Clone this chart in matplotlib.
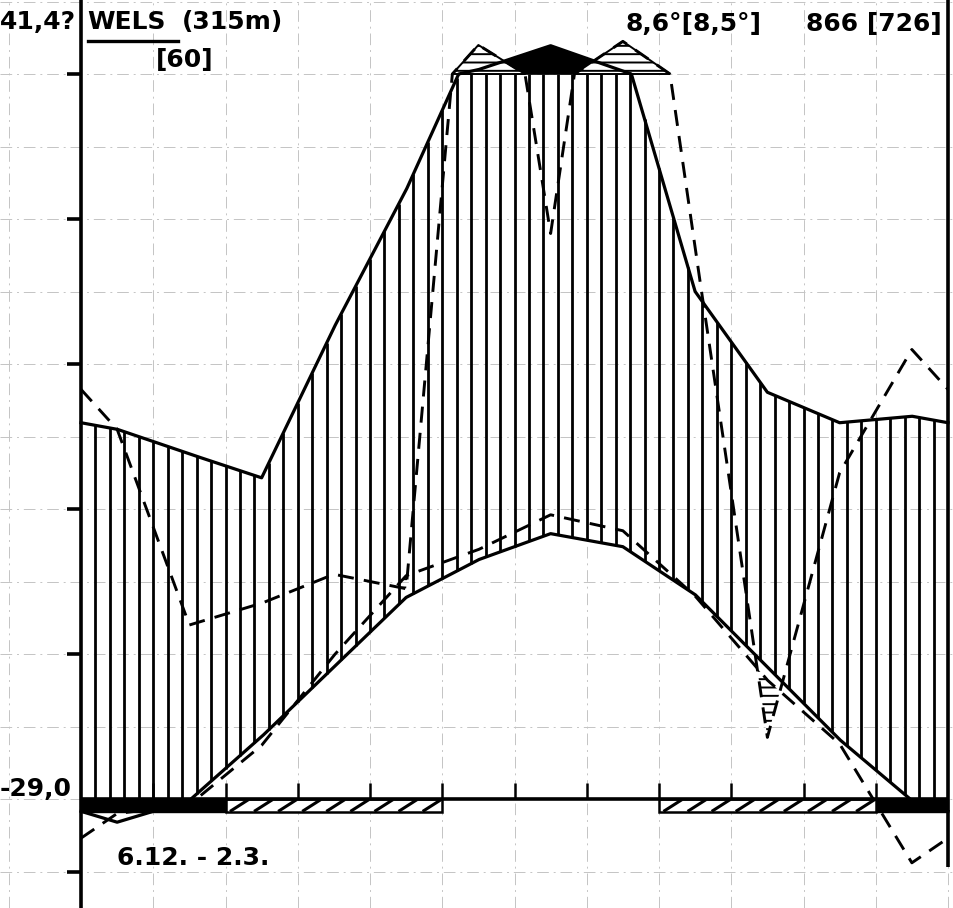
import numpy as np
import matplotlib.pyplot as plt
from matplotlib.patches import Rectangle

# Wels (315 m), monthly means Jan..Dec
month_mid = np.arange(12) + 0.5
temp_wels = [-1.6, -0.1, 4.3, 9.1, 13.9, 16.5, 18.3, 17.4, 14.1, 9.1, 4.1, -0.1]
prec_wels = [51, 47.6, 44.3, 65, 84, 106, 139, 104, 70, 56.1, 51.9, 52.8]
# bracketed series, drawn dashed
temp_cmp = [-1.0, -0.4, 3.7, 9.9, 15.4, 17.2, 19.6, 18.5, 14.0, 8.2, 3.8, -4.4]
prec_cmp = [51, 24, 27, 31, 29, 140, 78, 145, 76, 8.5, 45, 62]
# frost bars (month index ranges): black = mean daily min < 0, hatched = abs. min < 0
frost_black = [(0, 2), (11, 12)]
frost_hatch = [(2, 5), (8, 11)]
temp_ticks = [50, 40, 30, 20, 10, -5]

plt.rcParams['hatch.linewidth'] = 1.4
FONT = ['DejaVu Sans']


def close_year(vals):
    vals = np.asarray(vals, float)
    edge = (vals[0] + vals[-1]) / 2
    return np.r_[0, month_mid, 12], np.r_[edge, vals, edge]


def walter(p):
    # 10 degC = 20 mm, above 100 mm the scale shrinks to 1/10
    p = np.asarray(p, float)
    return np.where(p <= 100, p / 2, 50 + (p - 100) / 20)


xs = np.linspace(0, 12, 2401)


def curve(vals):
    xe, ve = close_year(vals)
    return np.interp(xs, xe, ve)


t1 = curve(temp_wels)
p1 = walter(curve(prec_wels))
t2 = curve(temp_cmp)
p2 = walter(curve(prec_cmp))

fig = plt.figure(figsize=(9.54, 9.08), dpi=100)
ax = fig.add_axes([0, 0, 1, 1])
ax.set_xlim(-81 / 72.25, (954 - 81) / 72.25)
ax.set_ylim((799 - 908) / 14.5, 799 / 14.5)
ax.axis('off')

# faint printed grid of the paper
grid_kw = dict(color='#c4c4c4', lw=0.7, ls=(0, (12, 5, 2, 5)), zorder=0)
for gx in np.arange(-1, 13):
    ax.axvline(gx, **grid_kw)
for gy in np.arange(-5, 56, 5):
    ax.axhline(gy, **grid_kw)

# humid period: vertical hatching between the two solid curves
for xv in np.arange(1, 60) / 5:
    top = min(np.interp(xv, xs, p1), 50)
    bot = max(np.interp(xv, xs, t1), 0)
    if top > bot:
        ax.vlines(xv, bot, top, color='k', lw=2.0, zorder=2)

# above 100 mm: black (solid series), hatched (dashed series)
ax.fill_between(xs, 50, p1, where=p1 > 50, color='k', lw=0.5, zorder=3)
ax.fill_between(xs, 50, p2, where=p2 > 50, facecolor='white', edgecolor='k',
                hatch='--', lw=1.4, zorder=4)
# dry period of the dashed series
ax.fill_between(xs, p2, t2, where=t2 > p2, facecolor='none', edgecolor='k',
                hatch='--', lw=0, zorder=4)

ax.plot(xs, p1, color='k', lw=2.3, zorder=5)
ax.plot(xs, t1, color='k', lw=2.3, zorder=5)
ax.plot(xs, p2, color='k', lw=2.1, ls=(0, (5.5, 3.5)), zorder=5)
ax.plot(xs, t2, color='k', lw=2.1, ls=(0, (5.5, 3.5)), zorder=5)

# frost bars below the zero line
for a, b in frost_black:
    ax.add_patch(Rectangle((a, -0.9), b - a, 0.9, facecolor='k', edgecolor='k', lw=1, zorder=6))
for a, b in frost_hatch:
    ax.add_patch(Rectangle((a, -0.9), b - a, 0.9, facecolor='white', edgecolor='k', lw=1.8, zorder=6))
    for x0 in np.arange(a + 0.08, b - 0.2, 1 / 3):
        ax.plot([x0, x0 + 0.22], [-0.8, -0.1], color='k', lw=2.2, zorder=7)

# frame, zero line, ticks
ax.hlines(0, 0, 12, color='k', lw=2.6, zorder=7)
ax.vlines(0, -7.6, 56, color='k', lw=2.6, zorder=7)
ax.vlines(12, -4.7, 56, color='k', lw=2.6, zorder=7)
ax.vlines(np.arange(1, 12), 0, 1.1, color='k', lw=1.8, zorder=7)
ax.hlines(temp_ticks, -0.2, 0, color='k', lw=2.6, zorder=7)

# labels
tk = dict(transform=ax.transAxes, fontsize=18, fontweight='bold', family=FONT,
          va='center', zorder=8)
W, H = 954, 908
ax.text(76 / W, 1 - 22 / H, '41,4?', ha='right', **tk)
ax.text(87 / W, 1 - 22 / H, 'WELS', ha='left', **tk)
ax.plot([88 / W, 178 / W], [1 - 41 / H] * 2, color='k', lw=2.4, transform=ax.transAxes)
ax.text(182 / W, 1 - 22 / H, '(315m)', ha='left', **tk)
ax.text(185 / W, 1 - 60 / H, '[60]', ha='center', **tk)
ax.text(626 / W, 1 - 24 / H, '8,6°[8,5°]', ha='left', **tk)
ax.text(806 / W, 1 - 24 / H, '866 [726]', ha='left', **tk)
ax.text(0, 1 - 789 / H, '-29,0', ha='left', **tk)
ax.text(117 / W, 1 - 858 / H, '6.12. - 2.3.', ha='left', **tk)

fig.savefig('out.png', dpi=100)
